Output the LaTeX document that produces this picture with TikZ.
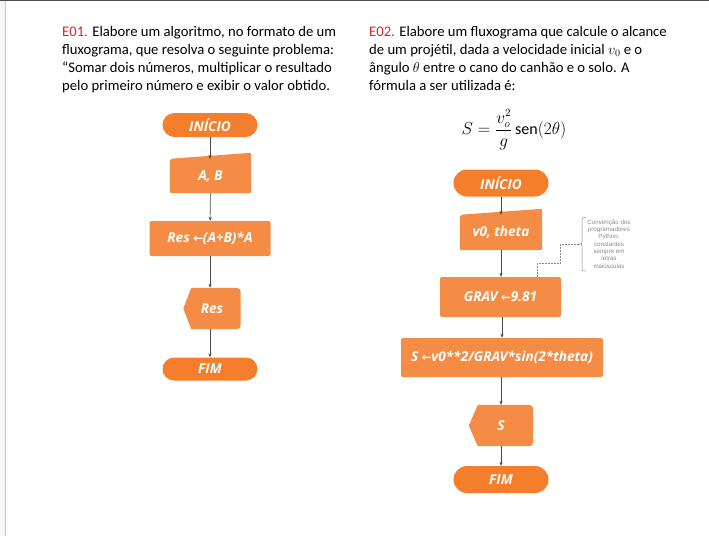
\documentclass[tikz,border=0pt]{standalone}
\usepackage{amsmath}
\usepackage{fontspec}
\setmainfont{Carlito}
\newfontfamily\boxfont{Open Sans}
\newfontfamily\arrfont{DejaVu Sans}
\newfontfamily\cmtfont{Liberation Sans}
\usetikzlibrary{arrows.meta}
\pgfdeclarelayer{background}
\pgfsetlayers{background,main}
\definecolor{termc}{HTML}{F57E2C}
\definecolor{boxc}{HTML}{F58C45}
\definecolor{redE}{HTML}{D9262B}
\definecolor{linec}{HTML}{4A4A4A}
\definecolor{cmtc}{HTML}{8A8A8A}
\tikzset{
  txtline/.style={anchor=base west, inner sep=0pt, font=\fontsize{14.67}{18}\selectfont},
  flowtxt/.style={text=white, font=\boxfont\bfseries\itshape\fontsize{13.6}{15}\selectfont, inner sep=0pt},
  term/.style={flowtxt, rectangle, fill=termc, minimum width=95pt},
  proc/.style={flowtxt, rectangle, fill=boxc, rounded corners=2pt},
  shapebox/.style={flowtxt},
  arr/.style={draw=linec, line width=0.6pt, -{Stealth[length=4pt,width=3.2pt]}},
}
\newcommand{\larr}{{\arrfont\bfseries\itshape\fontsize{11.5}{13}\selectfont ←}}
\begin{document}
\begin{tikzpicture}[x=1pt,y=-1pt]
\useasboundingbox (0,0) rectangle (709,536);
% page border
\fill[gray!8] (0,0) rectangle (5,536);
\draw[gray!45, line width=0.8pt] (5.5,0) -- (5.5,536);
\draw[black!70, line width=1.4pt] (0,0.7) -- (709,0.7);

% left statement
\node[txtline] (l1) at (62,36) {\textcolor{redE}{E01.} Elabore um algoritmo, no formato de um};
\node[txtline] (l2) at (62,54) {fluxograma, que resolva o seguinte problema:};
\node[txtline] (l3) at (62,72) {“Somar dois números, multiplicar o resultado};
\node[txtline] (l4) at (62,90) {pelo primeiro número e exibir o valor obtido.};

% right statement
\node[txtline] (r1) at (369,36) {\textcolor{redE}{E02.} Elabore um fluxograma que calcule o alcance};
\node[txtline] (r2) at (369,54) {de um projétil, dada a velocidade inicial $v_0$ e o};
\node[txtline] (r3) at (369,72) {ângulo $\theta$ entre o cano do canhão e o solo. A};
\node[txtline] (r4) at (369,90) {fórmula a ser utilizada é:};
\node[inner sep=0pt, font=\fontsize{16}{19}\selectfont] (form) at (514,130) {$S=\dfrac{v_o^2}{g}\,\mathrm{sen}(2\theta)$};

% ---------- left flowchart ----------
\node[term, minimum height=24pt, rounded corners=12pt] (ini1) at (210,125) {INÍCIO};
\node[shapebox, minimum width=81pt, minimum height=34pt] (ab) at (210.5,176) {A, B};
\node[proc, minimum width=121pt, minimum height=35pt] (res) at (210,238.5) {Res \larr(A+B)*A};
\node[shapebox, minimum width=57pt, minimum height=41pt] (d1) at (212,308.5) {Res};
\node[term, minimum height=23pt, rounded corners=11.5pt] (fim1) at (210,369) {FIM};

% ---------- right flowchart ----------
\node[term, minimum height=27pt, rounded corners=13.5pt] (ini2) at (501,183) {INÍCIO};
\node[shapebox, minimum width=82pt, minimum height=35pt] (in2) at (501,232.5) {v0, theta};
\node[proc, minimum width=121pt, minimum height=40pt] (grav) at (500.5,297) {GRAV \larr9.81};
\node[proc, minimum width=202pt, minimum height=39pt] (sbox) at (502,357.5) {S \larr v0**2/GRAV*sin(2*theta)};
\node[shapebox, minimum width=64pt, minimum height=41pt] (d2) at (501,425.5) {S};
\node[term, minimum height=27pt, rounded corners=13.5pt] (fim2) at (501,479.5) {FIM};

\begin{pgfonlayer}{background}
  % manual inputs
  \fill[boxc, rounded corners=2pt] (ab.south west) -- (ab.north west) -- ([yshift=6pt]ab.north east) -- (ab.south east) -- cycle;
  \fill[boxc, rounded corners=2pt] (in2.south west) -- (in2.north west) -- ([yshift=6pt]in2.north east) -- (in2.south east) -- cycle;
  % displays
  \fill[boxc] (d1.west) -- ([xshift=8pt]d1.north west) -- ([xshift=-9pt]d1.north east)
     .. controls (d1.north east) .. ([yshift=-9pt]d1.north east)
     -- ([yshift=9pt]d1.south east)
     .. controls (d1.south east) .. ([xshift=-9pt]d1.south east)
     -- ([xshift=8pt]d1.south west) -- cycle;
  \fill[boxc] (d2.west) -- ([xshift=9pt]d2.north west) -- ([xshift=-9pt]d2.north east)
     .. controls (d2.north east) .. ([yshift=-9pt]d2.north east)
     -- ([yshift=9pt]d2.south east)
     .. controls (d2.south east) .. ([xshift=-9pt]d2.south east)
     -- ([xshift=9pt]d2.south west) -- cycle;
\end{pgfonlayer}

% connectors left
\draw[arr] (ini1) -- (ini1.south |- ab.north);
\draw[arr] (ab) -- (res);
\draw[arr] (res.south) -- (res.south |- d1.north);
\draw[arr] (d1.south -| fim1.north) -- (fim1);

% connectors right
\draw[arr] (ini2) -- (in2);
\draw[arr] (in2) -- (in2.south |- grav.north);
\draw[arr] (grav.south -| sbox.north) -- (sbox);
\draw[arr] (sbox.south -| d2.north) -- (d2);
\draw[arr] (d2) -- (fim2);

% comment
\node[inner sep=0pt, align=center, text=cmtc, font=\cmtfont\fontsize{6.2}{7.3}\selectfont] (cmt) at (609,244)
  {Convenção dos\\programadores\\Python:\\constantes\\sempre em\\letras\\maiúsculas};
\coordinate (btip) at (578.5,244);
\draw[cmtc, line width=0.5pt] (586,217.5) .. controls (582,217.5) .. (582,221.5) -- (582,240.5)
   .. controls (582,244) .. (btip) .. controls (582,244) .. (582,247.5) -- (582,267)
   .. controls (582,271) .. (586,271);
\coordinate (k1) at (560,263);
\draw[cmtc, line width=0.5pt, densely dotted] (btip) -| (k1) -| ([xshift=-24pt]grav.north east);
\end{tikzpicture}
\end{document}
